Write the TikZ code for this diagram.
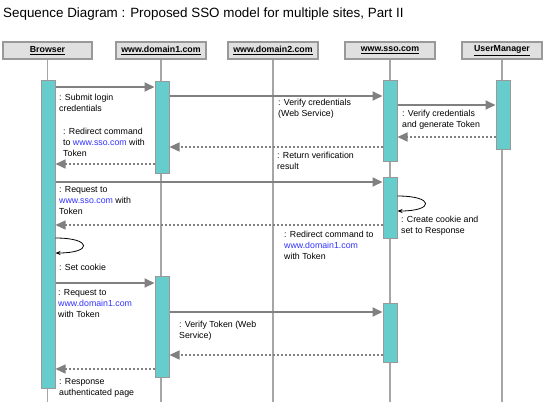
\documentclass[tikz,border=0pt]{standalone}
\usepackage{fontspec}
\setmainfont{Liberation Sans}
\usepackage{tikz}
\usetikzlibrary{arrows.meta}

\definecolor{barfill}{HTML}{66CCCC}
\definecolor{barline}{HTML}{999999}
\definecolor{msggray}{HTML}{808080}
\definecolor{hdrfill}{HTML}{E0E0E0}
\definecolor{lifegray}{HTML}{A6A6A6}
\definecolor{linkblue}{HTML}{3333FF}

\newcommand{\weblink}[1]{\textcolor{linkblue}{#1}}

\begin{document}
\begin{tikzpicture}[x=1pt, y=-1pt,
    head/.style={draw=barline, fill=hdrfill, line width=1.2pt, minimum width=90, minimum height=17, inner sep=0,
        font=\fontsize{8.8}{10}\selectfont\bfseries},
    life/.style={draw=lifegray, line width=1.5pt},
    bar/.style={draw=barline, fill=barfill, line width=1pt, minimum width=14, inner sep=0},
    msg/.style={draw=msggray, line width=1.8pt, -{Triangle[length=10pt,width=9pt]}},
    reply/.style={draw=msggray, line width=1.4pt, dash pattern=on 1.2pt off 2.8pt, -{Triangle[length=10pt,width=9pt]}},
    selfmsg/.style={draw=black, line width=0.8pt, -{Stealth[length=5pt,width=4pt]}},
    note/.style={anchor=north west, inner sep=0, align=left, font=\fontsize{8.8}{11}\selectfont}]

    \useasboundingbox (0, 0) rectangle (550, 402);
    \fill[white] (0, 0) rectangle (550, 402);

    % title
    \node[anchor=base west, inner sep=0, font=\fontsize{13.4}{16}\selectfont] (title) at (3, 17)
        {Sequence Diagram : Proposed SSO model for multiple sites, Part II};

    % draw object headers
    \node[head, minimum width=89] (hBrowser) at (47.5, 50.5) {\underline{Browser}};
    \node[head] (hDomainA) at (161, 50.5) {\underline{www.domain1.com}};
    \node[head] (hDomainB) at (273, 50.5) {\underline{www.domain2.com}};
    \node[head] (hSso) at (390, 50.5) {\underline{www.sso.com}};
    \node[head, minimum width=80] (hUser) at (502, 50.5) {\underline{UserManager}};

    % draw lifelines
    \coordinate (bottom) at (0, 402);
    \draw[life] (hBrowser.south) -- (hBrowser.south |- bottom);
    \draw[life] (hDomainA.south) -- (hDomainA.south |- bottom);
    \draw[life] (hDomainB.south) -- (hDomainB.south |- bottom);
    \draw[life] (hSso.south) -- (hSso.south |- bottom);
    \draw[life] (hUser.south) -- (hUser.south |- bottom);

    % draw activation bars
    \node[bar, minimum height=308] (brA) at (48, 234) {};
    \node[bar, minimum height=92] (dmA) at (162, 127) {};
    \node[bar, minimum height=101] (dmB) at (162, 326.5) {};
    \node[bar, minimum height=81] (ssA) at (390, 120.5) {};
    \node[bar, minimum height=61] (ssB) at (390, 207.5) {};
    \node[bar, minimum height=59] (ssC) at (390, 332.5) {};
    \node[bar, minimum height=69] (umA) at (503, 114.5) {};

    % message heights
    \coordinate (m1) at (0, 87);
    \coordinate (m2) at (0, 96);
    \coordinate (m3) at (0, 105);
    \coordinate (m4) at (0, 137);
    \coordinate (m5) at (0, 147);
    \coordinate (m6) at (0, 164);
    \coordinate (m7) at (0, 182);
    \coordinate (m9) at (0, 225);
    \coordinate (m11) at (0, 283);
    \coordinate (m12) at (0, 312);
    \coordinate (m13) at (0, 355);
    \coordinate (m14) at (0, 369);
    \coordinate (s1a) at (0, 196);
    \coordinate (s1b) at (0, 211);
    \coordinate (s2a) at (0, 238);
    \coordinate (s2b) at (0, 253);

    % draw messages
    \draw[msg] (brA.east |- m1) -- (dmA.west |- m1);
    \draw[msg] (dmA.east |- m2) -- (ssA.west |- m2);
    \draw[msg] (ssA.east |- m3) -- (umA.west |- m3);
    \draw[reply] (umA.west |- m4) -- (ssA.east |- m4);
    \draw[reply] (ssA.west |- m5) -- (dmA.east |- m5);
    \draw[reply] (dmA.west |- m6) -- (brA.east |- m6);
    \draw[msg] (brA.east |- m7) -- (ssB.west |- m7);
    \draw[selfmsg] (ssB.east |- s1a) .. controls +(37, 0) and +(37, 0) .. (ssB.east |- s1b);
    \draw[reply] (ssB.west |- m9) -- (brA.east |- m9);
    \draw[selfmsg] (brA.east |- s2a) .. controls +(37, 0) and +(37, 0) .. (brA.east |- s2b);
    \draw[msg] (brA.east |- m11) -- (dmB.west |- m11);
    \draw[msg] (dmB.east |- m12) -- (ssC.west |- m12);
    \draw[reply] (ssC.west |- m13) -- (dmB.east |- m13);
    \draw[reply] (dmB.west |- m14) -- (brA.east |- m14);

    % draw message texts
    \node[note] (t1) at (59, 94) {: Submit login\\credentials};
    \node[note] (t2) at (278, 99) {: Verify credentials\\(Web Service)};
    \node[note] (t3) at (402, 110) {: Verify credentials\\and generate Token};
    \node[note] (t4) at (63, 128) {: Redirect command\\to \weblink{www.sso.com} with\\Token};
    \node[note] (t5) at (277, 152) {: Return verification\\result};
    \node[note] (t6) at (59, 186) {: Request to\\\weblink{www.sso.com} with\\Token};
    \node[note] (t7) at (401, 216) {: Create cookie and\\set to Response};
    \node[note] (t8) at (284, 231) {: Redirect command to\\\weblink{www.domain1.com}\\with Token};
    \node[note] (t9) at (59, 264) {: Set cookie};
    \node[note] (t10) at (58, 289) {: Request to\\\weblink{www.domain1.com}\\with Token};
    \node[note] (t11) at (179, 321) {: Verify Token (Web\\Service)};
    \node[note] (t12) at (59, 378) {: Response\\authenticated page};

\end{tikzpicture}
\end{document}
